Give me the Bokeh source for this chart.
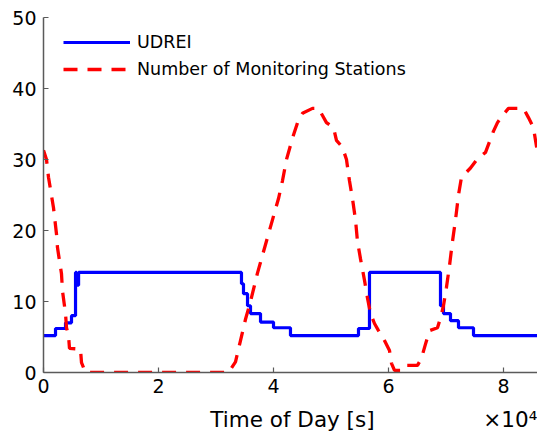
from bokeh.plotting import figure
from bokeh.models import Range1d, FixedTicker, Legend, LegendItem, LinearAxis, AllLabels
from bokeh.embed import file_html
from bokeh.resources import INLINE

# ---- data (time of day in seconds) ----
udrei_t = [0, 2090, 3830, 4870, 5570, 5750, 6100, 34430, 34780, 35480, 36000,
           37740, 40000, 42950, 54780, 56690, 69040, 69560, 70780, 72170, 74780, 86400]
udrei_v = [5.2, 6.2, 7.0, 8.0, 14.1, 12.3, 14.1, 12.5, 11.1, 9.4, 8.3,
           7.1, 6.3, 5.2, 6.2, 14.1, 9.4, 8.3, 7.3, 6.3, 5.2, 5.2]

stations_t = [0, 520, 870, 1740, 2260, 2430, 3130, 3300, 3830, 4000, 4350, 4520, 6430,
              6610, 7300, 32170, 33390, 34260, 35130, 36000, 37210, 38600, 39820,
              40870, 41560, 42260, 43300, 44350, 45040, 46780, 47820, 48520, 49210,
              50430, 50950, 52000, 52690, 53210, 53730, 54260, 54600, 55130, 55820,
              56340, 56870, 57560, 58260, 59300, 60170, 60520, 61040, 62080, 62600,
              65040, 65730, 66430, 67130, 68520, 69040, 69560, 70080, 70600, 71130,
              71650, 72170, 72690, 74260, 75470, 76870, 77560, 78260, 78950, 79820,
              80860, 83470, 84340, 85210, 85560, 85910]
stations_v = [31.3, 30, 27.5, 23.2, 19.5, 17.6, 13.9, 11.5, 8.3, 6.3, 5.2, 3.4, 3.3,
              1.4, 0, 0, 1.5, 4.5, 7.5, 10, 14, 18, 21.5,
              24.5, 27, 30, 33, 35.6, 36.5, 37.2, 37.2, 36.2, 35.2,
              34.5, 32.7, 31.7, 30, 27, 24.5, 21.5, 18.5, 16, 13,
              10.5, 8.3, 6.9, 5.9, 4.5, 3.1, 1.3, 0.3, 0.3, 1,
              1, 2, 4, 5.9, 6.3, 7.7, 9.4, 12, 15, 18.5,
              21.5, 25, 27.5, 28.8, 30.1, 31, 32.5, 34, 35.2, 36.2,
              37.2, 37.2, 35.9, 34.5, 32.7, 31]

x_tick_values = [0, 20000, 40000, 60000, 80000]
x_tick_labels = ["0", "2", "4", "6", "8"]
y_tick_values = [0, 10, 20, 30, 40, 50]

series_names = ["UDREI", "Number of Monitoring Stations"]
x_label = "Time of Day [s]"
x_multiplier = "×10⁴"

FONT = "DejaVu Sans"
X_END = 85910

p = figure(width=537, height=437, output_backend="svg", toolbar_location=None,
           x_range=Range1d(0, X_END), y_range=Range1d(0, 50),
           min_border_left=43, min_border_right=0, min_border_top=17,
           min_border_bottom=65)
p.outline_line_color = None
p.background_fill_color = "white"
p.border_fill_color = "white"
p.xgrid.visible = False
p.ygrid.visible = False

r_blue = p.step(udrei_t, udrei_v, mode="after", line_color="#0000ff", line_width=3.2)
r_red = p.line(stations_t, stations_v, line_color="#ff0000", line_width=3.3,
               line_dash="14 10")

for ax in (p.xaxis[0], p.yaxis[0]):
    ax.axis_line_color = "#5a5a5a"
    ax.axis_line_width = 1.5
    ax.major_tick_line_color = "#5a5a5a"
    ax.major_tick_line_width = 1.2
    ax.major_tick_in = 5
    ax.major_tick_out = 0
    ax.minor_tick_line_color = None
    ax.major_label_text_font = FONT
    ax.major_label_text_font_size = "19px"
    ax.major_label_text_color = "black"

p.xaxis[0].ticker = FixedTicker(ticks=x_tick_values)
p.xaxis[0].major_label_overrides = {v: s for v, s in zip(x_tick_values, x_tick_labels)}
p.xaxis[0].major_label_standoff = 6
p.yaxis[0].ticker = FixedTicker(ticks=y_tick_values)
p.yaxis[0].major_label_standoff = 7

# second row below the tick labels: axis title (centred) and the ×10⁴ multiplier (right)
title_pos = X_END * 0.504
mult_pos = X_END * 0.945
label_axis = LinearAxis(ticker=FixedTicker(ticks=[title_pos, mult_pos]),
                        major_label_overrides={title_pos: x_label, mult_pos: x_multiplier},
                        major_label_policy=AllLabels(),
                        axis_line_color=None, major_tick_line_color=None,
                        minor_tick_line_color=None, major_tick_in=0, major_tick_out=0,
                        major_label_standoff=11,
                        major_label_text_font=FONT, major_label_text_font_size="21.5px",
                        major_label_text_color="black")
p.add_layout(label_axis, "below")

legend = Legend(items=[LegendItem(label=series_names[0], renderers=[r_blue]),
                       LegendItem(label=series_names[1], renderers=[r_red])],
                location=(20, 293), orientation="vertical",
                glyph_width=67, glyph_height=20, label_height=20,
                label_standoff=7, spacing=7, padding=0, margin=0,
                border_line_color=None, background_fill_alpha=0,
                label_text_font=FONT, label_text_font_size="17.5px",
                label_text_color="black")
p.add_layout(legend)

open("out.html", "w").write(file_html(p, INLINE))
